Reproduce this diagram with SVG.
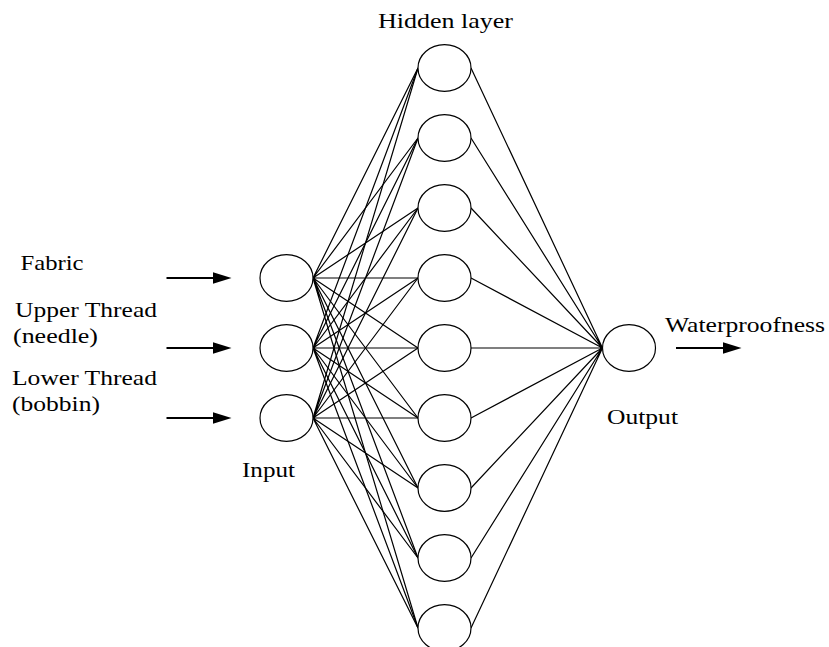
<svg xmlns="http://www.w3.org/2000/svg" width="829" height="647" viewBox="0 0 829 647">
  <style>
    .node { fill: #ffffff; stroke: #000000; stroke-width: 1.2; }
    .link { stroke: #000000; stroke-width: 1.2; fill: none; }
    .arrow { stroke: #000000; stroke-width: 2; fill: none; }
    .label { font-family: "Liberation Serif", "Times New Roman", serif; font-size: 22px; fill: #000000; }
  </style>
  <defs>
    <marker id="head" viewBox="0 0 20 14" markerWidth="20" markerHeight="14" refX="0.5" refY="7" orient="auto" markerUnits="userSpaceOnUse">
      <path d="M0,1 L19,7 L0,13 Z" fill="#000000"/>
    </marker>
  </defs>
  <rect width="829" height="647" fill="#ffffff"/>

  <!-- connectors: input to hidden, hidden to output -->
  <g id="connectors">
    <g id="input-hidden">
      <path class="link" d="M313,278 L418,68 M313,278 L418,138 M313,278 L418,208 M313,278 L418,278 M313,278 L418,348 M313,278 L418,418 M313,278 L418,488 M313,278 L418,558 M313,278 L418,628"/>
      <path class="link" d="M313,348 L418,68 M313,348 L418,138 M313,348 L418,208 M313,348 L418,278 M313,348 L418,348 M313,348 L418,418 M313,348 L418,488 M313,348 L418,558 M313,348 L418,628"/>
      <path class="link" d="M313,418 L418,68 M313,418 L418,138 M313,418 L418,208 M313,418 L418,278 M313,418 L418,348 M313,418 L418,418 M313,418 L418,488 M313,418 L418,558 M313,418 L418,628"/>
    </g>
    <g id="hidden-output">
      <path class="link" d="M471,68 L602.5,348 M471,138 L602.5,348 M471,208 L602.5,348 M471,278 L602.5,348 M471,348 L602.5,348 M471,418 L602.5,348 M471,488 L602.5,348 M471,558 L602.5,348 M471,628 L602.5,348"/>
    </g>
    <g id="arrows">
      <line class="arrow" x1="166.5" y1="278" x2="213" y2="278" marker-end="url(#head)"/>
      <line class="arrow" x1="166.5" y1="348" x2="213" y2="348" marker-end="url(#head)"/>
      <line class="arrow" x1="166.5" y1="418" x2="213" y2="418" marker-end="url(#head)"/>
      <line class="arrow" x1="676" y1="348" x2="723" y2="348" marker-end="url(#head)"/>
    </g>
  </g>

  <!-- input layer -->
  <g id="input-1"><ellipse class="node" cx="286.5" cy="278" rx="26.5" ry="23.3"/></g>
  <g id="input-2"><ellipse class="node" cx="286.5" cy="348" rx="26.5" ry="23.3"/></g>
  <g id="input-3"><ellipse class="node" cx="286.5" cy="418" rx="26.5" ry="23.3"/></g>

  <!-- hidden layer -->
  <g id="hidden-1"><ellipse class="node" cx="444.5" cy="68" rx="26.5" ry="23.3"/></g>
  <g id="hidden-2"><ellipse class="node" cx="444.5" cy="138" rx="26.5" ry="23.3"/></g>
  <g id="hidden-3"><ellipse class="node" cx="444.5" cy="208" rx="26.5" ry="23.3"/></g>
  <g id="hidden-4"><ellipse class="node" cx="444.5" cy="278" rx="26.5" ry="23.3"/></g>
  <g id="hidden-5"><ellipse class="node" cx="444.5" cy="348" rx="26.5" ry="23.3"/></g>
  <g id="hidden-6"><ellipse class="node" cx="444.5" cy="418" rx="26.5" ry="23.3"/></g>
  <g id="hidden-7"><ellipse class="node" cx="444.5" cy="488" rx="26.5" ry="23.3"/></g>
  <g id="hidden-8"><ellipse class="node" cx="444.5" cy="558" rx="26.5" ry="23.3"/></g>
  <g id="hidden-9"><ellipse class="node" cx="444.5" cy="628" rx="26.5" ry="23.3"/></g>

  <!-- output layer -->
  <g id="output-1"><ellipse class="node" cx="629" cy="348" rx="26.5" ry="23.3"/></g>

  <!-- labels -->
  <g id="labels" font-family="'Liberation Serif', 'Times New Roman', serif">
    <text class="label" x="378" y="28" textLength="135" lengthAdjust="spacingAndGlyphs">Hidden layer</text>
    <text class="label" x="20.5" y="270" textLength="63" lengthAdjust="spacingAndGlyphs">Fabric</text>
    <text class="label" x="15" y="316.5" textLength="142" lengthAdjust="spacingAndGlyphs">Upper Thread</text>
    <text class="label" x="13" y="343" textLength="85" lengthAdjust="spacingAndGlyphs">(needle)</text>
    <text class="label" x="12" y="385" textLength="145" lengthAdjust="spacingAndGlyphs">Lower Thread</text>
    <text class="label" x="12" y="410.5" textLength="88" lengthAdjust="spacingAndGlyphs">(bobbin)</text>
    <text class="label" x="242" y="477" textLength="53" lengthAdjust="spacingAndGlyphs">Input</text>
    <text class="label" x="607" y="424" textLength="71" lengthAdjust="spacingAndGlyphs">Output</text>
    <text class="label" x="665" y="331.5" textLength="160" lengthAdjust="spacingAndGlyphs">Waterproofness</text>
  </g>
</svg>
